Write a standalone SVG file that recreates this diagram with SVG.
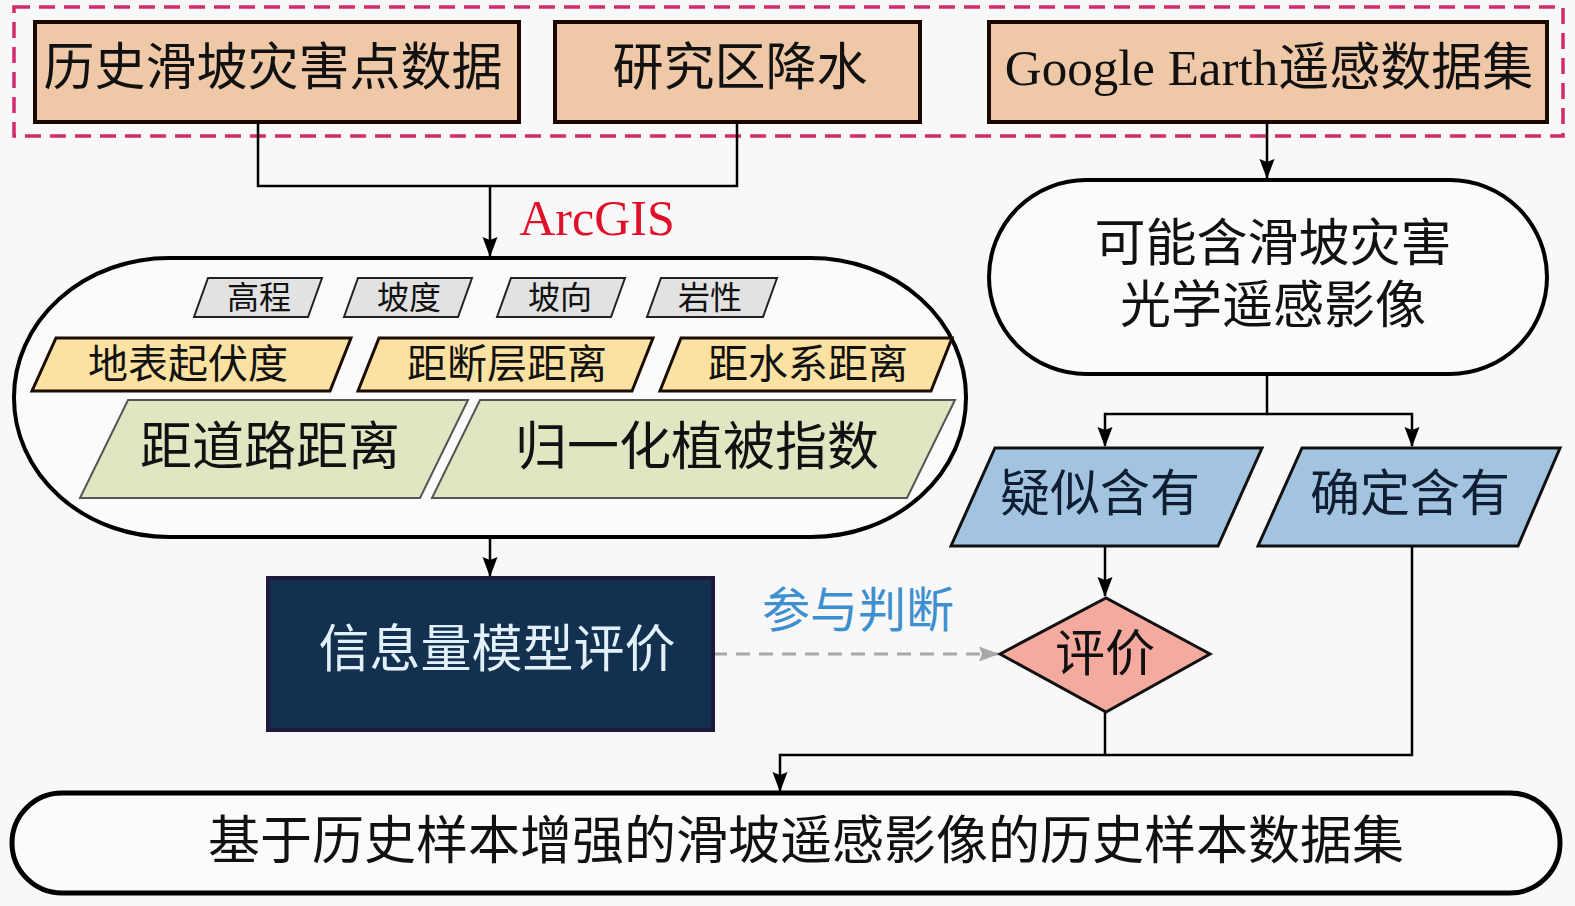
<svg xmlns="http://www.w3.org/2000/svg" width="1575" height="906" viewBox="0 0 1575 906">
<defs>
<marker id="arr" markerUnits="userSpaceOnUse" markerWidth="20" markerHeight="20" viewBox="0 0 20 20" refX="19" refY="10" orient="auto">
<path d="M0,2.5 L20,10 L0,17.5 L3,10 Z" fill="#000"/>
</marker>
<marker id="arrg" markerUnits="userSpaceOnUse" markerWidth="20" markerHeight="20" viewBox="0 0 20 20" refX="19" refY="10" orient="auto">
<path d="M0,2.5 L20,10 L0,17.5 L3,10 Z" fill="#a8a8a8"/>
</marker>
<style>
text{font-family:"Liberation Serif","Noto Sans CJK SC",serif;text-anchor:middle;dominant-baseline:central;fill:#111}
.src{fill:#efc8a8;stroke:#1a0800;stroke-width:4}
.cap{fill:#fbfbfb;stroke:#000;stroke-width:4}
.gray{fill:#e2e2e2;stroke:#222;stroke-width:2}
.yel{fill:#fbe2a2;stroke:#1a0c00;stroke-width:3}
.grn{fill:#dfe6c2;stroke:#555;stroke-width:2}
.blu{fill:#a3c4e0;stroke:#111;stroke-width:3}
.ln{fill:none;stroke:#000;stroke-width:2.5}
</style>
</defs>
<rect width="1575" height="906" fill="#f8f8f8"/>
<rect x="14" y="7" width="1549" height="129" fill="none" stroke="#d22a6a" stroke-width="3.5" stroke-dasharray="16,9"/>

<g id="n-hist"><rect class="src" x="35" y="22" width="484" height="100"/><text x="273" y="68" font-size="51">历史滑坡灾害点数据</text></g>
<g id="n-rain"><rect class="src" x="555" y="22" width="365" height="100"/><text x="740" y="68" font-size="51">研究区降水</text></g>
<g id="n-ge"><rect class="src" x="989" y="22" width="558" height="100"/><text x="1269" y="68" font-size="51">Google Earth遥感数据集</text></g>

<g id="connectors">
<path class="ln" d="M258,122 V186 H737 V122"/>
<path class="ln" d="M490,186 V256" marker-end="url(#arr)"/>
<path class="ln" d="M490,537 V576" marker-end="url(#arr)"/>
<path class="ln" d="M1267,122 V178" marker-end="url(#arr)"/>
<path class="ln" d="M1267,374 V414 H1105 V446" marker-end="url(#arr)"/>
<path class="ln" d="M1267,414 H1412 V446" marker-end="url(#arr)"/>
<path class="ln" d="M1105,547 V596" marker-end="url(#arr)"/>
<path class="ln" d="M1105,712 V755"/>
<path class="ln" d="M1412,547 V755 H780 V791" marker-end="url(#arr)"/>
<path d="M713,654 H998" fill="none" stroke="#a8a8a8" stroke-width="3" stroke-dasharray="14,9" marker-end="url(#arrg)"/>
</g>
<text x="597" y="218" font-size="50" style="fill:#e0102a">ArcGIS</text>
<text x="858" y="610" font-size="48" style="fill:#3d8fd0">参与判断</text>

<g id="n-factors">
<rect class="cap" x="14" y="258" width="952" height="279" rx="155" ry="139"/>
<g id="f-elev"><polygon class="gray" points="208,278 322,278 308,317 194,317"/><text x="259" y="298" font-size="32">高程</text></g>
<g id="f-slope"><polygon class="gray" points="358,278 472,278 458,317 344,317"/><text x="409" y="298" font-size="32">坡度</text></g>
<g id="f-aspect"><polygon class="gray" points="511,278 625,278 611,317 497,317"/><text x="560" y="298" font-size="32">坡向</text></g>
<g id="f-litho"><polygon class="gray" points="661,278 777,278 763,317 647,317"/><text x="710" y="298" font-size="32">岩性</text></g>
<g id="f-relief"><polygon class="yel" points="56,338 351,338 330,391 32,391"/><text x="188" y="364" font-size="40">地表起伏度</text></g>
<g id="f-fault"><polygon class="yel" points="379,338 653,338 632,391 358,391"/><text x="507" y="364" font-size="40">距断层距离</text></g>
<g id="f-river"><polygon class="yel" points="681,338 952,338 931,391 660,391"/><text x="808" y="364" font-size="40">距水系距离</text></g>
<g id="f-road"><polygon class="grn" points="128,400 468,400 420,498 80,498"/><text x="270" y="447" font-size="52">距道路距离</text></g>
<g id="f-ndvi"><polygon class="grn" points="480,400 955,400 907,498 432,498"/><text x="697" y="447" font-size="52">归一化植被指数</text></g>
</g>

<g id="n-info"><rect x="268" y="578" width="445" height="152" fill="#14304f" stroke="#1e1a3c" stroke-width="4"/><text x="497" y="650" font-size="51" style="fill:#e2f0fa">信息量模型评价</text></g>

<g id="n-rs"><rect class="cap" x="989" y="180" width="558" height="194" rx="97" ry="97"/><text x="1273" y="244" font-size="51">可能含滑坡灾害</text><text x="1273" y="306" font-size="51">光学遥感影像</text></g>

<g id="n-susp"><polygon class="blu" points="995,448 1262,448 1218,546 951,546"/><text x="1100" y="494" font-size="50" style="fill:#0f1e33">疑似含有</text></g>
<g id="n-sure"><polygon class="blu" points="1302,448 1560,448 1518,546 1258,546"/><text x="1410" y="494" font-size="50" style="fill:#0f1e33">确定含有</text></g>

<g id="n-eval"><polygon points="1000,654 1106,598 1210,654 1106,712" fill="#f5aaa0" stroke="#111" stroke-width="3"/><text x="1105" y="654" font-size="50">评价</text></g>

<g id="n-dataset"><rect class="cap" x="12" y="793" width="1548" height="100" rx="50" ry="50" style="stroke-width:5"/><text x="806" y="841" font-size="52">基于历史样本增强的滑坡遥感影像的历史样本数据集</text></g>
</svg>
